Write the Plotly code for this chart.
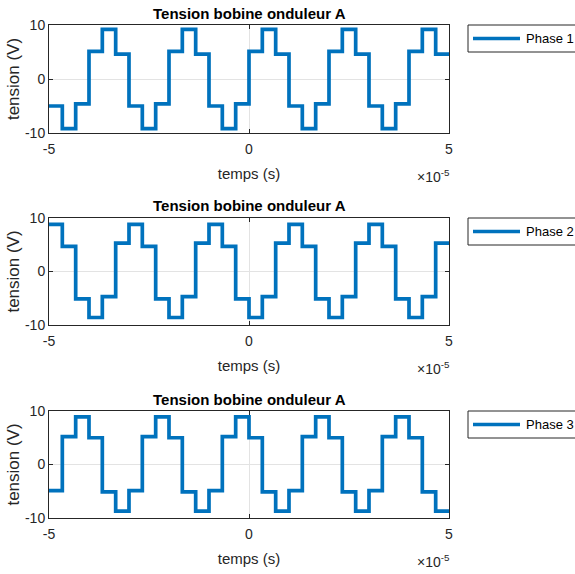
import plotly.graph_objects as go

# Time edges of the step segments, in units of 1e-5 s
t_edges = [-5.0, -4.667, -4.333, -4.0, -3.667, -3.333, -3.0, -2.667, -2.333, -2.0,
           -1.667, -1.333, -1.0, -0.667, -0.333, 0.0, 0.333, 0.667, 1.0, 1.333,
           1.667, 2.0, 2.333, 2.667, 3.0, 3.333, 3.667, 4.0, 4.333, 4.667, 5.0]

# Voltage level (V) on each segment
phase1 = [-5.0, -9.2, -4.6, 5.1, 9.2, 4.6, -5.0, -9.2, -4.6, 5.1, 9.2, 4.6,
          -5.0, -9.2, -4.6, 5.1, 9.2, 4.6, -5.0, -9.2, -4.6, 5.1, 9.2, 4.6,
          -5.0, -9.2, -4.6, 5.1, 9.2, 4.6]
phase2 = [8.8, 4.7, -5.1, -8.6, -4.7, 5.3, 8.8, 4.7, -5.1, -8.6, -4.7, 5.3,
          8.8, 4.7, -5.1, -8.6, -4.7, 5.3, 8.8, 4.7, -5.1, -8.6, -4.7, 5.3,
          8.8, 4.7, -5.1, -8.6, -4.7, 5.3]
phase3 = [-4.9, 5.2, 8.9, 5.0, -5.1, -8.7, -4.9, 5.2, 8.9, 5.0, -5.1, -8.7,
          -4.9, 5.2, 8.9, 5.0, -5.1, -8.7, -4.9, 5.2, 8.9, 5.0, -5.1, -8.7,
          -4.9, 5.2, 8.9, 5.0, -5.1, -8.7]

series_names = ["Phase 1", "Phase 2", "Phase 3"]
x_ticks = [-5, 0, 5]
x_ticklabels = ["-5", "0", "5"]
y_ticks = [-10, 0, 10]
y_ticklabels = ["-10", "0", "10"]
title_text = "Tension bobine onduleur A"
xlabel = "temps (s)"
ylabel = "tension (V)"

W, H = 575, 574
FONT = "Liberation Sans, Arial, sans-serif"
AX = "#262626"
BLUE = "#0072BD"

px_left, px_right = 49, 449
plot_tops = [25, 218, 411]
plot_bots = [133, 325, 518]

fig = go.Figure()
layout = dict(
    width=W, height=H, margin=dict(l=0, r=0, t=0, b=0),
    paper_bgcolor="white", plot_bgcolor="white",
    font=dict(family=FONT, size=14, color=AX),
    annotations=[], shapes=[], showlegend=False,
)

def fx(px):
    return px / W

def fy(py):
    return 1 - py / H

for i, (levels, name) in enumerate(zip([phase1, phase2, phase3], series_names)):
    sfx = "" if i == 0 else str(i + 1)
    yvals = levels + [levels[-1]]
    fig.add_trace(go.Scatter(
        x=t_edges, y=yvals, mode="lines", name=name,
        line=dict(shape="hv", color=BLUE, width=3.7),
        xaxis="x" + sfx, yaxis="y" + sfx,
    ))
    ydom = [fy(plot_bots[i]), fy(plot_tops[i])]
    layout["xaxis" + sfx] = dict(
        domain=[fx(px_left), fx(px_right)], anchor="y" + sfx,
        range=[-5, 5], tickvals=x_ticks, ticktext=x_ticklabels,
        ticks="inside", ticklen=4, tickcolor=AX, tickwidth=1,
        showline=True, linecolor=AX, linewidth=1, mirror="ticks",
        showgrid=True, gridcolor="#e3e3e3", gridwidth=1, zeroline=False,
        tickfont=dict(size=14, color=AX), automargin=False, ticklabelstandoff=3,
        title=dict(text=xlabel, font=dict(size=15, color=AX), standoff=12),
    )
    layout["yaxis" + sfx] = dict(
        domain=ydom, anchor="x" + sfx,
        range=[-10, 10], tickvals=y_ticks, ticktext=y_ticklabels,
        ticks="inside", ticklen=4, tickcolor=AX, tickwidth=1,
        showline=True, linecolor=AX, linewidth=1, mirror="ticks",
        showgrid=True, gridcolor="#e3e3e3", gridwidth=1, zeroline=False,
        tickfont=dict(size=14, color=AX), automargin=False,
        title=dict(text=ylabel, font=dict(size=17, color=AX), standoff=1),
    )
    # legend box (drawn as layout decoration, right edge runs past the page)
    top = plot_tops[i]
    layout["shapes"].append(dict(
        type="rect", xref="paper", yref="paper",
        x0=fx(468), x1=fx(590), y0=fy(top + 27), y1=fy(top),
        line=dict(color=AX, width=1), fillcolor="white", layer="above",
    ))
    layout["shapes"].append(dict(
        type="line", xref="paper", yref="paper",
        x0=fx(473), x1=fx(520), y0=fy(top + 13.5), y1=fy(top + 13.5),
        line=dict(color=BLUE, width=3.7), layer="above",
    ))
    layout["annotations"].append(dict(
        text=name, xref="paper", yref="paper",
        x=fx(524), y=fy(top + 13.5), xanchor="left", yanchor="middle",
        showarrow=False, font=dict(size=13, color="#000000", family=FONT),
    ))
    layout["annotations"].append(dict(
        text="<b>" + title_text + "</b>", xref="paper", yref="paper",
        x=fx(249), y=fy(top - 12), xanchor="center", yanchor="middle",
        showarrow=False, font=dict(size=15, color="#000000", family=FONT),
    ))
    layout["annotations"].append(dict(
        text="\u00d710<sup>-5</sup>", xref="paper", yref="paper",
        x=fx(452), y=fy(plot_bots[i] + 43), xanchor="right", yanchor="middle",
        showarrow=False, font=dict(size=14, color=AX, family=FONT),
    ))

fig.update_layout(**layout)
fig.write_html(
    "out.html",
    config={"displayModeBar": False},
    post_script="document.body.style.margin='0';document.body.style.padding='0';"
                "document.body.style.overflow='hidden';",
)
